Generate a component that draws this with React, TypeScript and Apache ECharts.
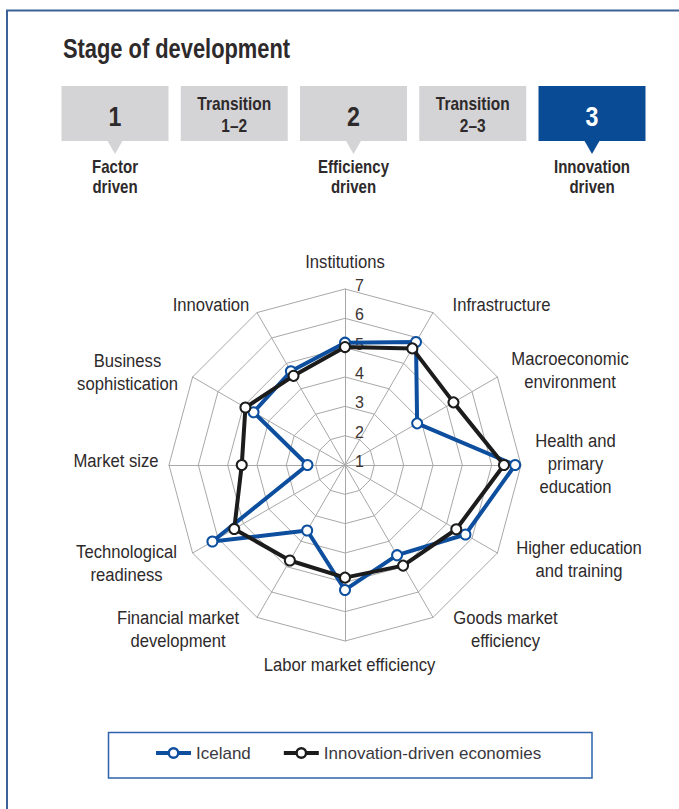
import React, { useEffect, useRef } from "react";
import * as echarts from "echarts";

// ---- data (pillars listed clockwise from the top) ----
const pillars = [
  "Institutions",
  "Infrastructure",
  "Macroeconomic\nenvironment",
  "Health and\nprimary\neducation",
  "Higher education\nand training",
  "Goods market\nefficiency",
  "Labor market efficiency",
  "Financial market\ndevelopment",
  "Technological\nreadiness",
  "Market size",
  "Business\nsophistication",
  "Innovation",
];
const iceland = [5.17, 5.84, 3.84, 6.8, 5.74, 4.55, 5.26, 3.58, 6.22, 2.28, 4.6, 4.69];
const innovationDriven = [5.02, 5.59, 5.27, 6.42, 5.38, 4.96, 4.84, 4.76, 5.36, 4.52, 4.92, 4.51];
const seriesNames = ["Iceland", "Innovation-driven economies"];
const scaleMin = 1;
const scaleMax = 7;

const stageLabels = ["1", "Transition\n1\u20132", "2", "Transition\n2\u20133", "3"];
const stageDriven = ["Factor\ndriven", "", "Efficiency\ndriven", "", "Innovation\ndriven"];
const currentStage = 4;
const title = "Stage of development";

// ---- layout / style (not data) ----
const labelPos: [number, number][] = [
  [345, 262],
  [501.5, 304.5],
  [570, 370.5],
  [575.5, 463.5],
  [579, 559],
  [505.5, 629],
  [349.5, 665],
  [178, 629],
  [126.5, 563],
  [116, 461],
  [127.5, 372],
  [211, 305],
];
const FONT = '"Liberation Sans", Arial, sans-serif';
const BLUE = "#0d4f9e";
const BLACK = "#1c1c1c";
const GRID = "#a8a8a8";
const TEXT = "#2e2a2b";
const BOXGRAY = "#d4d4d6";

export default function App() {
  const ref = useRef<HTMLDivElement>(null);
  useEffect(() => {
    document.body.style.margin = "0";
    if (!ref.current) return;
    const chart = echarts.init(ref.current, undefined, { renderer: "svg" });

    // ECharts lays radar indicators counter-clockwise, so reverse (keeping the first on top)
    const order = [0, ...Array.from({ length: pillars.length - 1 }, (_, k) => pillars.length - 1 - k)];
    const reorder = (arr: number[]) => order.map((i) => arr[i]);

    const graphics: any[] = [];
    graphics.push({
      type: "polyline",
      shape: { points: [[7, 809], [7, 10.5], [679, 10.5]] },
      style: { stroke: "#3a6296", lineWidth: 2, fill: "none" },
    });
    graphics.push({
      type: "text",
      x: 63,
      y: 49,
      scaleX: 0.81,
      style: { text: title, font: `bold 27px ${FONT}`, fill: TEXT, verticalAlign: "middle", align: "left" },
    });
    stageLabels.forEach((lab, i) => {
      const x0 = 61.5 + i * 119.25;
      const cx = x0 + 53.5;
      const active = i === currentStage;
      const fill = active ? "#0a4b96" : BOXGRAY;
      graphics.push({ type: "rect", shape: { x: x0, y: 86, width: 107, height: 55 }, style: { fill } });
      const big = !lab.includes("\n");
      graphics.push({
        type: "text",
        x: cx,
        y: big ? 116 : 115.5,
        scaleX: 0.86,
        style: {
          text: lab,
          font: big ? `bold 27px ${FONT}` : `bold 18px ${FONT}`,
          lineHeight: 22,
          fill: active ? "#ffffff" : TEXT,
          align: "center",
          verticalAlign: "middle",
        },
      });
      if (stageDriven[i]) {
        graphics.push({
          type: "polygon",
          shape: { points: [[cx - 8, 140], [cx + 8, 140], [cx, 154]] },
          style: { fill },
        });
        graphics.push({
          type: "text",
          x: cx,
          y: 176.5,
          scaleX: 0.86,
          style: {
            text: stageDriven[i],
            font: `bold 17.5px ${FONT}`,
            lineHeight: 19.5,
            fill: TEXT,
            align: "center",
            verticalAlign: "middle",
          },
        });
      }
    });
    pillars.forEach((p, i) => {
      const lines = p.split("\n").length;
      graphics.push({
        type: "text",
        x: labelPos[i][0],
        y: labelPos[i][1],
        scaleX: 0.9,
        style: {
          text: p,
          font: `18.5px ${FONT}`,
          lineHeight: lines > 1 ? 23 : 20,
          fill: TEXT,
          align: "center",
          verticalAlign: "middle",
        },
      });
    });
    graphics.push({
      type: "rect",
      shape: { x: 108.5, y: 732.5, width: 483.5, height: 45.5 },
      style: { fill: "none", stroke: "#2e62aa", lineWidth: 1.5 },
    });

    const icon =
      "path://M0,4H12V8H0Z M23,4H35V8H23Z M11.5,6A6,6,0,1,1,23.5,6A6,6,0,1,1,11.5,6Z M14,6A3.5,3.5,0,1,0,21,6A3.5,3.5,0,1,0,14,6Z";

    const option: any = {
      animation: false,
      backgroundColor: "#ffffff",
      graphic: graphics,
      legend: {
        left: 156,
        top: 743,
        padding: 0,
        itemWidth: 35,
        itemHeight: 12,
        itemGap: 33,
        itemStyle: { borderWidth: 0 },
        textStyle: { fontFamily: FONT, fontSize: 17, color: "#3a3840", lineHeight: 20 },
        data: [
          { name: seriesNames[0], icon, itemStyle: { color: BLUE, borderWidth: 0 } },
          { name: seriesNames[1], icon, itemStyle: { color: BLACK, borderWidth: 0 } },
        ],
      },
      radar: {
        center: [345, 465],
        radius: 176,
        startAngle: 90,
        splitNumber: 6,
        shape: "polygon",
        indicator: order.map((i) => ({ name: pillars[i].replace(/\n/g, " "), min: scaleMin, max: scaleMax })),
        axisName: { show: false },
        splitLine: { lineStyle: { color: GRID, width: 1 } },
        splitArea: { show: false },
        axisLine: { lineStyle: { color: GRID, width: 1 } },
        axisTick: { show: false },
        axisLabel: { show: false },
      },
      polar: { center: [345, 461.5], radius: 176 },
      angleAxis: { show: false, startAngle: 90, min: 0, max: 360 },
      radiusAxis: {
        min: scaleMin,
        max: scaleMax,
        interval: 1,
        axisLine: { show: false },
        axisTick: { show: false },
        splitLine: { show: false },
        axisLabel: { show: true, margin: -19, color: "#3b3430", fontSize: 16, fontFamily: FONT, align: "right" },
      },
      series: [
        {
          type: "radar",
          symbol: "emptyCircle",
          symbolSize: 10,
          data: [
            {
              name: seriesNames[0],
              value: reorder(iceland),
              lineStyle: { color: BLUE, width: 4 },
              itemStyle: { color: BLUE, borderColor: BLUE, borderWidth: 2.5 },
            },
            {
              name: seriesNames[1],
              value: reorder(innovationDriven),
              lineStyle: { color: BLACK, width: 4 },
              itemStyle: { color: BLACK, borderColor: BLACK, borderWidth: 2.5 },
            },
          ],
        },
      ],
    };
    chart.setOption(option);
    return () => chart.dispose();
  }, []);
  return <div ref={ref} style={{ width: 679, height: 809 }} />;
}
